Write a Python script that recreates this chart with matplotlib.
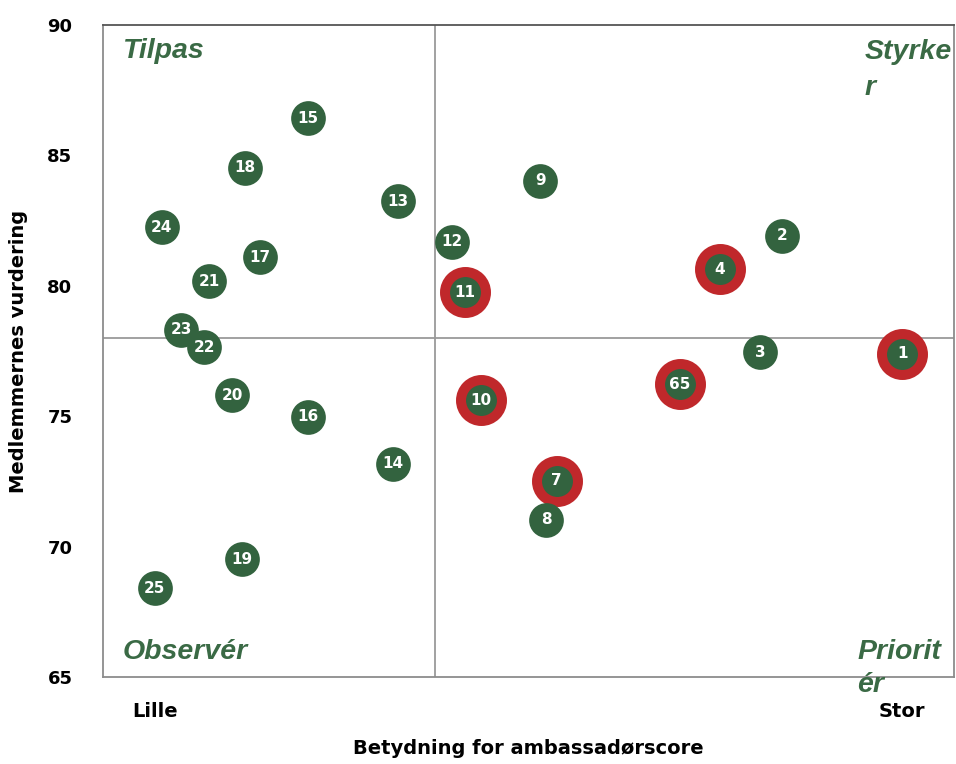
import matplotlib.pyplot as plt

# Point labels, importance (x) and member rating (y)
labels = ["15", "18", "24", "17", "21", "13", "12", "11", "9", "2", "4", "23",
          "22", "3", "1", "20", "16", "10", "65", "14", "7", "8", "19", "25"]
x_vals = [24.1, 16.7, 6.9, 18.4, 12.5, 34.7, 41.0, 42.5, 51.4, 79.8, 72.5, 9.2,
          11.9, 77.2, 93.9, 15.2, 24.1, 44.4, 67.8, 34.1, 53.3, 52.1, 16.3, 6.1]
y_vals = [86.43, 84.52, 82.25, 81.10, 80.18, 83.25, 81.68, 79.76, 84.02, 81.91,
          80.64, 78.31, 77.65, 77.46, 77.39, 75.81, 74.97, 75.62, 76.23, 73.17,
          72.52, 71.02, 69.52, 68.41]
# Points marked with a red ring
ringed = ["11", "4", "1", "10", "65", "7"]

x_split = 39.0
y_split = 78.0
y_ticks = [65, 70, 75, 80, 85, 90]
x_tick_pos = [6.1, 93.9]
x_tick_labels = ["Lille", "Stor"]

green = "#33633f"
red = "#c0282b"
line_grey = "#9a9a9a"

fig = plt.figure(figsize=(9.56, 7.64), dpi=100)
ax = fig.add_axes([0.1077, 0.1139, 0.8903, 0.8534])

# quadrant lines
ax.axvline(x_split, color=line_grey, lw=1.3, zorder=1)
ax.axhline(y_split, color=line_grey, lw=1.3, zorder=1)

for lab, x, y in zip(labels, x_vals, y_vals):
    if lab in ringed:
        ax.plot(x, y, "o", ms=29.5, mfc=green, mec=red, mew=7.2, zorder=3)
    else:
        ax.plot(x, y, "o", ms=25, mfc=green, mec=green, mew=0, zorder=3)
    ax.text(x, y, lab, color="white", fontsize=11, fontweight="bold",
            ha="center", va="center", zorder=4)

ax.set_xlim(0, 100)
ax.set_ylim(65, 90)
ax.set_yticks(y_ticks)
ax.set_xticks(x_tick_pos)
ax.set_xticklabels(x_tick_labels)
ax.tick_params(length=0, labelsize=13, pad=22)
ax.tick_params(axis="x", pad=18, labelsize=14)
for t in ax.get_xticklabels() + ax.get_yticklabels():
    t.set_fontweight("bold")

for s in ax.spines.values():
    s.set_color("#8c8c8c")
    s.set_linewidth(1.3)
ax.spines["top"].set_color("#555555")

ax.set_xlabel("Betydning for ambassadørscore", fontsize=14, fontweight="bold", labelpad=13)
ax.set_ylabel("Medlemmernes vurdering", fontsize=14, fontweight="bold", labelpad=14)

# quadrant names
qfont = dict(family="Liberation Sans", fontsize=20.5, fontweight="bold",
             style="italic", color="#3a6a45", va="center", ha="left", clip_on=False)
ax.text(2.35, 89.0, "Tilpas", **qfont)
ax.text(2.35, 65.96, "Observér", **qfont)
ax.text(89.5, 88.96, "Styrke", **qfont)
ax.text(89.5, 87.58, "r", **qfont)
ax.text(88.6, 65.96, "Priorit", **qfont)
ax.text(88.6, 64.7, "ér", **qfont)

fig.savefig("out.png", dpi=100)
